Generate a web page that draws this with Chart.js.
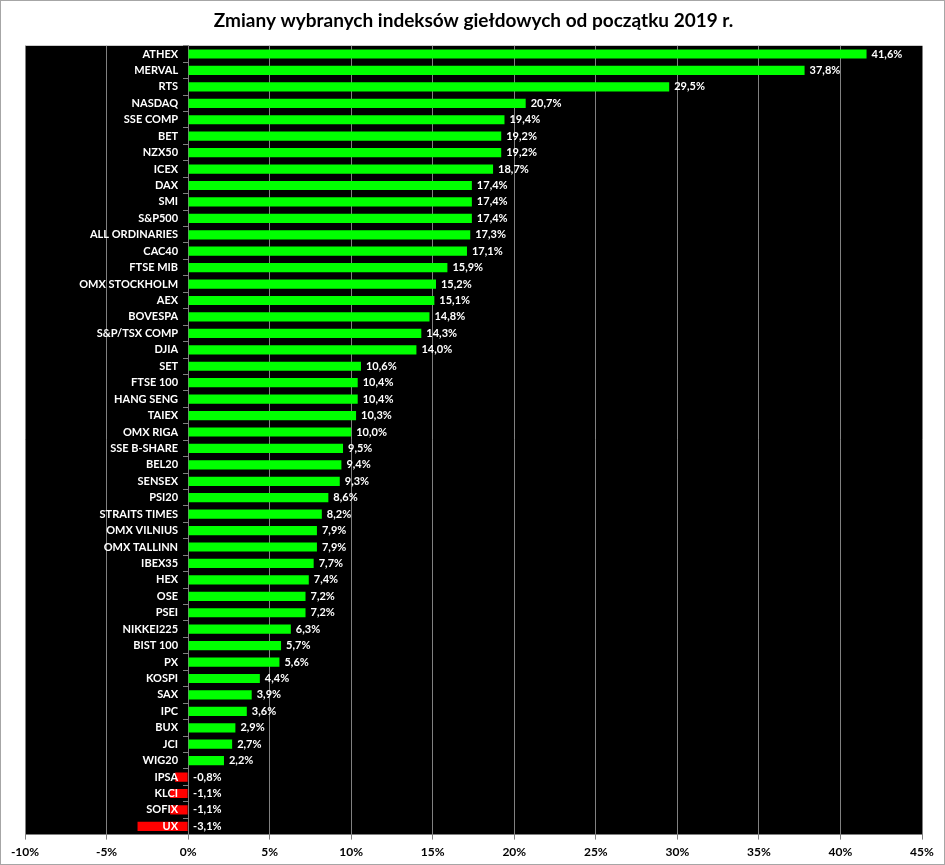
<!DOCTYPE html>
<html lang="pl">
<head>
  <meta charset="UTF-8" />
  <title>Zmiany wybranych indeksów giełdowych</title>
  <script src="https://cdn.jsdelivr.net/npm/chart.js"></script>
  <style>
    body { margin: 0; background: #fff; }
    .ramka { width: 945px; height: 865px; box-sizing: border-box; border: 1px solid #a6a6a6; }
    canvas { display: block; }
  </style>
</head>
<body>
  <div class="ramka">
    <canvas id="indeksyChart" width="943" height="863"></canvas>
  </div>

  <script>
    const indeksy = [
      "ATHEX", "MERVAL", "RTS", "NASDAQ", "SSE COMP", "BET", "NZX50", "ICEX",
      "DAX", "SMI", "S&P500", "ALL ORDINARIES", "CAC40", "FTSE MIB", "OMX STOCKHOLM", "AEX",
      "BOVESPA", "S&P/TSX COMP", "DJIA", "SET", "FTSE 100", "HANG SENG", "TAIEX", "OMX RIGA",
      "SSE B-SHARE", "BEL20", "SENSEX", "PSI20", "STRAITS TIMES", "OMX VILNIUS", "OMX TALLINN", "IBEX35",
      "HEX", "OSE", "PSEI", "NIKKEI225", "BIST 100", "PX", "KOSPI", "SAX",
      "IPC", "BUX", "JCI", "WIG20", "IPSA", "KLCI", "SOFIX", "UX"
    ];

    // zmiana od początku roku, w %
    const zmiany = [
      41.6, 37.8, 29.5, 20.7, 19.4, 19.2, 19.2, 18.7,
      17.4, 17.4, 17.4, 17.3, 17.1, 15.9, 15.2, 15.1,
      14.8, 14.3, 14.0, 10.6, 10.4, 10.4, 10.3, 10.0,
      9.5, 9.4, 9.3, 8.6, 8.2, 7.9, 7.9, 7.7,
      7.4, 7.2, 7.2, 6.3, 5.7, 5.6, 4.4, 3.9,
      3.6, 2.9, 2.7, 2.2, -0.8, -1.1, -1.1, -3.1
    ];

    const osX = { min: -10, max: 45, krok: 5 };

    const czcionka = "Lato, 'Open Sans', sans-serif";

    // czarne tło obszaru wykresu + etykiety indeksów i wartości
    const etykiety = {
      id: "etykiety",
      beforeDraw(chart) {
        const { ctx, chartArea: a } = chart;
        ctx.save();
        ctx.fillStyle = "#000";
        ctx.fillRect(a.left, a.top, a.right - a.left, a.bottom - a.top);
        ctx.restore();
      },
      afterDatasetsDraw(chart) {
        const { ctx, scales } = chart;
        const zero = scales.x.getPixelForValue(0);
        const meta = chart.getDatasetMeta(0);
        ctx.save();
        ctx.font = "bold 11px " + czcionka;
        ctx.fillStyle = "#fff";
        ctx.textBaseline = "middle";
        meta.data.forEach((bar, i) => {
          const y = bar.y;
          ctx.textAlign = "right";
          ctx.fillText(indeksy[i], zero - 10, y);
          ctx.textAlign = "left";
          const v = zmiany[i];
          const x = v >= 0 ? bar.x + 5 : zero + 5;
          ctx.fillText(v.toFixed(1).replace(".", ",") + "%", x, y);
        });
        ctx.restore();
      }
    };

    new Chart(document.getElementById("indeksyChart"), {
      type: "bar",
      data: {
        labels: indeksy,
        datasets: [{
          data: zmiany,
          backgroundColor: zmiany.map(v => v < 0 ? "#ff0000" : "#00ff00"),
          barPercentage: 0.56,
          categoryPercentage: 1
        }]
      },
      options: {
        indexAxis: "y",
        responsive: false,
        animation: false,
        layout: { padding: { left: 24, right: 22, bottom: 0 } },
        plugins: {
          legend: { display: false },
          tooltip: { enabled: false },
          title: {
            display: true,
            text: "Zmiany wybranych indeksów giełdowych od początku 2019 r.",
            color: "#000",
            font: { family: czcionka, size: 19, weight: "bold" },
            padding: { top: 8, bottom: 14 }
          }
        },
        scales: {
          x: {
            min: osX.min,
            max: osX.max,
            ticks: {
              stepSize: osX.krok,
              color: "#000",
              padding: 5,
              font: { family: czcionka, size: 12, weight: "bold" },
              callback: v => v + "%"
            },
            grid: { color: "#808080", lineWidth: 1, tickLength: 5 },
            border: { color: "#808080" }
          },
          y: {
            position: { x: 0 },
            offset: true,
            ticks: { display: false },
            grid: { drawOnChartArea: false, offset: true, tickLength: 5, color: "#808080" },
            border: { color: "#808080" }
          }
        }
      },
      plugins: [etykiety]
    });
  </script>
</body>
</html>
